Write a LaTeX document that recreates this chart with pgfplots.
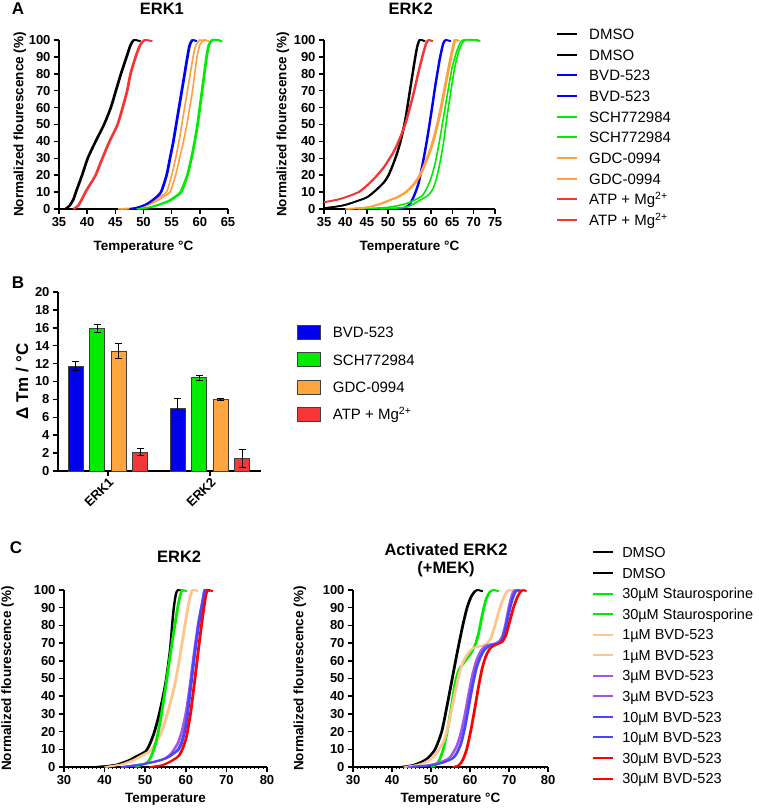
\documentclass[border=0pt]{standalone}
\usepackage{pgfplots}
\pgfplotsset{compat=1.18}
\usepackage{pgfplotstable}
\usepackage{fontspec}
\setmainfont{Liberation Sans}

\definecolor{cgreen}{RGB}{0,235,0}
\definecolor{corange}{RGB}{255,160,64}
\definecolor{cred}{RGB}{250,50,50}
\definecolor{cpeach}{RGB}{255,196,140}
\definecolor{cpurple}{RGB}{165,85,230}
\definecolor{cblue}{RGB}{0,0,255}
\definecolor{cblueC}{RGB}{70,70,255}
\definecolor{bblue}{RGB}{0,0,235}
\definecolor{bgreen}{RGB}{0,235,0}
\definecolor{borange}{RGB}{255,165,64}
\definecolor{bred}{RGB}{245,55,55}

\pgfplotsset{
  every axis title shift=0pt,
  prism/.style={
    scale only axis, anchor=south west, clip=false,
    axis x line*=bottom, axis y line*=left,
    axis line style={line width=1.8pt,-},
    tick align=outside, major tick length=5pt,
    every tick/.append style={black, line width=1.5pt},
    tick label style={font=\fontsize{13}{15}\selectfont\bfseries},
    /pgf/number format/assume math mode=true,
    label style={font=\fontsize{13.5}{15}\selectfont\bfseries},
    title style={font=\fontsize{16.5}{18}\selectfont\bfseries},
  },
  melt/.style={prism, ymin=0, ymax=100, ytick={0,10,...,100},
    ylabel={Normalized flourescence (\%)}},
  curve/.style={line width=1.6pt, smooth, tension=0.4, no markers},
  barleg/.style={legend image code/.code={\draw[##1] (0pt,-1.6pt) rectangle (23pt,12.4pt);}},
  errs/.style={error bars/.cd, y dir=both, y explicit,
    error bar style={black, line width=1pt},
    error mark options={black, rotate=90, mark size=3.5pt, line width=1pt}},
}

% ---------- panel A, ERK1 ----------
\pgfplotstableread{
a b y
36 36.2 0
36.8 37 2
37.5 37.7 6
37.9 38.1 10
39 39.2 20
40 40.2 30
41.4 41.6 40
42.9 43.1 50
44.1 44.3 60
45 45.2 70
45.9 46.1 80
46.9 47.1 90
47.6 47.8 97
48.2 48.4 100
49.3 49.5 99.3
}\aoneDMSO
\pgfplotstableread{
a b y
37.5 37.7 0
38.3 38.5 2
39 39.2 6
39.6 39.8 10
40.5 40.7 15
41.4 41.6 20
42.6 42.8 30
43.6 43.8 38
44.3 44.5 43
45.3 45.5 50
46.2 46.4 60
47 47.2 70
47.6 47.8 80
48.5 48.7 90
49.3 49.5 97
50.1 50.3 100
51.4 51.6 99.3
}\aoneATP
\pgfplotstableread{
a b y
47.5 47.7 0
49 49.2 1
50.5 50.7 3
51.8 52 6
53 53.2 10
54 54.2 20
54.6 54.8 30
55.2 55.4 40
55.7 55.9 50
56.2 56.4 60
56.7 56.9 70
57.2 57.4 80
57.7 57.9 90
58.1 58.3 97
58.6 58.8 100
59.3 59.5 99.3
}\aoneBVD
\pgfplotstableread{
a b y
45.5 46 0
48 48.5 0.5
50 50.5 2
52 52.5 5
53 53.6 7.5
54.1 54.7 10
55 55.7 20
55.7 56.4 30
56.3 57.1 40
56.8 57.7 50
57.3 58.2 60
57.8 58.7 70
58.3 59.1 80
58.8 59.5 90
59.3 60 97
60 60.7 100
60.8 61.6 99.3
}\aoneGDC
\pgfplotstableread{
a b y
48.8 49.2 0
51 51.3 1
53 53.3 3
54.5 54.8 5
55.6 55.9 7.5
56.5 56.8 10
57.7 57.9 20
58.4 58.6 30
59 59.2 40
59.5 59.7 50
59.9 60.1 60
60.3 60.5 70
60.7 60.9 80
61.1 61.3 90
61.5 61.7 97
62.1 62.3 100
63.2 63.4 100
63.8 64 99
}\aoneSCH

% ---------- panel A, ERK2 ----------
\pgfplotstableread{
a b y
35 35 0.5
38 38.2 1.5
40 40.2 2.5
43 43.2 5
45 45.2 7
47 47.2 11
49 49.2 16
50 50.2 20
51 51.2 26
52 52.2 33
53 53.2 42
54 54.2 54
55 55.2 70
56 56.2 86
56.7 56.9 96
57.3 57.5 100
58.5 58.7 99.3
}\atwoDMSO
\pgfplotstableread{
a b y
35 35 4
38 38.2 5.5
40 40.2 7
43 43.2 10
45 45.2 14
47 47.2 19
49 49.2 25
50 50.2 29
51 51.2 33
52 52.2 38
53 53.2 44
54 54.2 51
55 55.2 60
56 56.2 70
57 57.2 81
58 58.2 91
58.8 59 98
59.4 59.6 100
60.3 60.5 99.3
}\atwoATP
\pgfplotstableread{
a b y
52.5 52.7 0
54 54.2 1
55 55.2 3
56 56.2 8
57 57.2 15
58 58.2 27
59 59.2 41
60 60.2 57
61 61.2 74
62 62.2 89
62.8 63 98
63.4 63.6 100
64.5 64.7 99.3
}\atwoBVD
\pgfplotstableread{
a b y
40 40.5 0
45 45.3 1
48 48.3 3
50 50.3 5
52 52.3 7
54 54.3 10
56 56.3 15
57.5 57.8 21
59 59.3 30
60 60.3 37
61 61.3 46
62 62.3 57
63 63.3 70
64 64.3 83
64.8 65.1 93
65.5 65.8 100
66.4 66.7 99.3
}\atwoGDC
\pgfplotstableread{
a b y
43 48 0
50 54 1
54 56 3
56 57.3 5
58 59.3 8
59 60.5 12
60 61.3 18
61 62.1 27
62 63 40
63 63.8 55
64 64.7 70
65 65.6 84
66 66.5 93
66.8 67.3 98
67.6 68.1 100
70.5 71 100
71 71.5 99
}\atwoSCH

% ---------- panel C, ERK2 ----------
\pgfplotstableread{
a b y
37 37.5 0
40 40.5 0.5
43 43.5 1.5
46 46.5 4
48 48.5 6.5
50 50.3 9
51 51.3 13
52 52.3 19
53 53.3 27
54 54.3 37
55 55.3 49
56 56.2 66
56.6 56.8 82
57 57.2 91
57.5 57.7 98
58 58.2 100
59.2 59.4 99.3
}\coneDMSO
\pgfplotstableread{
a b y
47.5 47.8 0
50 50.3 2
51 51.3 4.5
52 52.3 10
53 53.3 19
54 54.3 32
55 55.3 47
56 56.3 63
57 57.3 78
58 58.3 92
58.6 58.9 98
59 59.3 100
60 60.3 99.3
}\coneSTA
\pgfplotstableread{
a b y
40 40.5 0
44 44.5 1.5
47 47.5 4
49 49.5 6.5
51 51.4 9
52 52.4 12
53 53.4 16
54 54.4 21
55 55.4 28
56 56.3 36
57 57.3 45
58 58.3 57
59 59.3 71
60 60.3 85
60.8 61.1 95
61.5 61.8 100
62.8 63.1 99.3
}\coneONE
\pgfplotstableread{
a b y
44 44.5 0
50 50.5 2
54 54.3 4
56 56.3 7
57 57.3 10
58 58.3 14
59 59.3 21
60 60.3 32
61 61.3 48
62 62.3 66
63 63.3 82
64 64.3 94
64.5 64.8 100
65.5 65.8 99.3
}\coneTHREE
\pgfplotstableread{
a b y
44 44.5 0
48 48.5 1
52 52.5 3
55 55.4 5
57 57.4 8
58 58.4 10
59 59.3 15
60 60.3 25
61 61.3 44
62 62.3 63
63 63.3 80
64 64.3 93
64.6 64.9 100
65.8 66 99.3
}\coneTEN
\pgfplotstableread{
a b y
51 51.3 0
54 54.3 1
56 56.3 3
58 58.3 6
59 59.3 10
60 60.3 17
61 61.3 30
62 62.3 48
63 63.3 67
64 64.3 85
64.8 65 96
65.3 65.5 100
66.5 66.7 99.3
}\coneTHIRTY

% ---------- panel C, activated ERK2 ----------
\pgfplotstableread{
a b y
42 42.3 0
45 45.3 1
47 47.3 2.5
49 49.3 5
50.9 51.2 10
52.6 52.9 20
54 54.3 35
55.3 55.6 50
56.6 56.9 65
58 58.3 80
59.1 59.4 90
60.1 60.4 96
61 61.3 99
61.8 62.1 100
63.1 63.3 99.3
}\ctwoDMSO
\pgfplotstableread{
a b y
50 50.3 0
51 51.3 1
52 52.3 4
53 53.3 10
54 54.3 20
55 55.3 33
56 56.3 47
57 57.3 55
58 58.3 58
59 59.3 61
60 60.3 64
61 61.3 68
62 62.3 75
63 63.3 86
64 64.3 95
65 65.3 99
65.9 66.2 100
67.2 67.4 99.3
}\ctwoSTA
\pgfplotstableread{
a b y
43 43.3 0
46 46.3 1
49 49.3 3
51 51.3 7
53 53.3 14
54 54.3 21
55 55.3 31
56 56.3 42
57 57.3 52
58 58.3 59
59 59.3 63
60 60.3 66
61 61.3 67.5
62 62.3 68
63 63.3 68.5
64 64.3 69.5
65 65.3 72
66 66.3 78
67 67.3 86
68 68.3 93
69 69.3 98
69.8 70.1 100
71 71.2 99.3
}\ctwoONE
\pgfplotstableread{
a b y
44 44.3 0
49 49.3 1
52 52.3 2.5
54.5 54.8 5
55.5 55.8 8
56.5 56.8 12
57.5 57.8 19
58.5 58.8 29
59.5 59.8 41
60.5 60.8 52
61.5 61.8 60
62.5 62.8 65
63.5 63.8 68
64.5 64.8 69
65.5 65.8 69.5
66.5 66.8 70
67.3 67.6 71
68.2 68.5 74
69 69.3 81
69.8 70.1 90
70.6 70.9 97
71.3 71.6 100
72.4 72.6 99.3
}\ctwoTHREE
\pgfplotstableread{
a b y
45 45.3 0
50 50.3 1
53 53.3 2.5
55.5 55.8 5
56.5 56.8 8
57.5 57.8 13
58.5 58.8 22
59.5 59.8 34
60.5 60.8 46
61.5 61.8 56
62.5 62.8 62
63.5 63.8 66
64.5 64.8 68
65.5 65.8 69
66.5 66.8 69.5
67.3 67.6 70
68 68.3 71.5
68.8 69.1 77
69.7 70 86
70.6 70.9 94
71.5 71.8 99
72.3 72.6 100
73.3 73.5 99.3
}\ctwoTEN
\pgfplotstableread{
a b y
55.5 55.8 0
57 57.3 1
58 58.3 4
59 59.3 10
60 60.3 20
61 61.3 32
62 62.3 45
63 63.3 56
64 64.3 63
65 65.3 67
66 66.3 68.5
67 67.3 69.5
68 68.3 70.5
69 69.3 74
70 70.3 82
71 71.3 90
72 72.3 96
72.8 73.1 99
73.5 73.8 100
74.3 74.5 99.3
}\ctwoTHIRTY

\begin{document}
\begin{tikzpicture}
\path[use as bounding box] (0,0) rectangle (759pt,809pt);
\node[font=\fontsize{17}{19}\selectfont\bfseries] at (18pt,800pt) {A};
\node[font=\fontsize{17}{19}\selectfont\bfseries] at (18pt,526pt) {B};
\node[font=\fontsize{17}{19}\selectfont\bfseries] at (16pt,261pt) {C};

% A: ERK1
\begin{axis}[melt, at={(59pt,600pt)}, width=169pt, height=169pt,
  xmin=35, xmax=65, xtick={35,40,...,65},
  xlabel={Temperature °C},
  xlabel style={at={(axis description cs:0.5,-0.243)}, anchor=base},
  ylabel style={at={(axis description cs:-0.231,0.5)}, anchor=center},
  title={ERK1}, title style={at={(axis description cs:0.609,1.148)}, anchor=base}]
\addplot[curve, black] table[x=a,y=y]{\aoneDMSO};
\addplot[curve, black] table[x=b,y=y]{\aoneDMSO};
\addplot[curve, cred] table[x=a,y=y]{\aoneATP};
\addplot[curve, cred] table[x=b,y=y]{\aoneATP};
\addplot[curve, corange] table[x=a,y=y]{\aoneGDC};
\addplot[curve, corange] table[x=b,y=y]{\aoneGDC};
\addplot[curve, cblue] table[x=a,y=y]{\aoneBVD};
\addplot[curve, cblue] table[x=b,y=y]{\aoneBVD};
\addplot[curve, cgreen] table[x=a,y=y]{\aoneSCH};
\addplot[curve, cgreen] table[x=b,y=y]{\aoneSCH};
\end{axis}

% A: ERK2
\begin{axis}[melt, at={(324pt,600pt)}, width=171pt, height=169pt,
  xmin=35, xmax=75, xtick={35,40,...,75},
  xlabel={Temperature °C},
  xlabel style={at={(axis description cs:0.5,-0.243)}, anchor=base},
  ylabel style={at={(axis description cs:-0.240,0.5)}, anchor=center},
  title={ERK2}, title style={at={(axis description cs:0.507,1.148)}, anchor=base},
  legend style={at={(1.357,1.069)}, anchor=north west, draw=none, fill=none,
    inner sep=0pt, row sep=6.67pt, column sep=11pt,
    font=\fontsize{15}{17}\selectfont,
    nodes={inner sep=0pt, text height=11pt, text depth=3pt},
    cells={anchor=base west}},
  legend image code/.code={\draw[#1, line width=2pt] (0pt,5.4pt) -- (20pt,5.4pt);}]
\addplot[curve, black] table[x=a,y=y]{\atwoDMSO};
\addplot[curve, black] table[x=b,y=y]{\atwoDMSO};
\addplot[curve, cblue] table[x=a,y=y]{\atwoBVD};
\addplot[curve, cblue] table[x=b,y=y]{\atwoBVD};
\addplot[curve, cgreen] table[x=a,y=y]{\atwoSCH};
\addplot[curve, cgreen] table[x=b,y=y]{\atwoSCH};
\addplot[curve, corange] table[x=a,y=y]{\atwoGDC};
\addplot[curve, corange] table[x=b,y=y]{\atwoGDC};
\addplot[curve, cred] table[x=a,y=y]{\atwoATP};
\addplot[curve, cred] table[x=b,y=y]{\atwoATP};
\legend{DMSO,DMSO,BVD-523,BVD-523,SCH772984,SCH772984,GDC-0994,GDC-0994,
  ATP + Mg\textsuperscript{2+},ATP + Mg\textsuperscript{2+}}
\end{axis}

% B: delta Tm bars
\begin{axis}[prism, at={(58pt,338pt)}, width=203pt, height=179pt,
  ybar=6.5pt, bar width=15pt,
  xmin=-0.49, xmax=1.5, xtick={0,1}, xticklabels={ERK1,ERK2},
  xticklabel style={rotate=45, anchor=north east, inner sep=0.5pt,
    font=\fontsize{13}{15}\selectfont\bfseries},
  ymin=0, ymax=20, ytick={0,2,...,20},
  ylabel={Δ Tm / °C},
  ylabel style={at={(axis description cs:-0.177,0.5)}, anchor=center,
    font=\fontsize{17}{19}\selectfont\bfseries},
  legend style={at={(1.177,0.817)}, anchor=north west, draw=none, fill=none,
    inner sep=0pt, row sep=12.5pt, column sep=12pt,
    font=\fontsize{15}{17}\selectfont,
    nodes={inner sep=0pt, text height=12.5pt, text depth=1.7pt},
    cells={anchor=base west}}]
\addplot[barleg, fill=bblue, draw=black!75, line width=0.8pt, errs]
  coordinates {(0,11.7) +- (0,0.5) (1,7.0) +- (0,1.05)};
\addplot[barleg, fill=bgreen, draw=black!75, line width=0.8pt, errs]
  coordinates {(0,15.95) +- (0,0.42) (1,10.42) +- (0,0.3)};
\addplot[barleg, fill=borange, draw=black!75, line width=0.8pt, errs]
  coordinates {(0,13.4) +- (0,0.85) (1,7.98) +- (0,0.15)};
\addplot[barleg, fill=bred, draw=black!75, line width=0.8pt, errs]
  coordinates {(0,2.1) +- (0,0.4) (1,1.38) +- (0,1.0)};
\legend{BVD-523,SCH772984,GDC-0994,ATP + Mg\textsuperscript{2+}}
\end{axis}

% C: ERK2
\begin{axis}[melt, at={(64pt,42pt)}, width=203pt, height=177pt,
  xmin=30, xmax=80, xtick={30,40,...,80}, minor x tick num=9,
  minor tick length=2pt, every minor tick/.append style={line width=0.8pt},
  xlabel={Temperature},
  xlabel style={at={(axis description cs:0.5,-0.2)}, anchor=base},
  ylabel style={at={(axis description cs:-0.278,0.5)}, anchor=center},
  title={ERK2}, title style={at={(axis description cs:0.567,1.158)}, anchor=base}]
\addplot[curve, black] table[x=a,y=y]{\coneDMSO};
\addplot[curve, black] table[x=b,y=y]{\coneDMSO};
\addplot[curve, cpeach] table[x=a,y=y]{\coneONE};
\addplot[curve, cpeach] table[x=b,y=y]{\coneONE};
\addplot[curve, cgreen] table[x=a,y=y]{\coneSTA};
\addplot[curve, cgreen] table[x=b,y=y]{\coneSTA};
\addplot[curve, cpurple] table[x=a,y=y]{\coneTHREE};
\addplot[curve, cpurple] table[x=b,y=y]{\coneTHREE};
\addplot[curve, cblueC] table[x=a,y=y]{\coneTEN};
\addplot[curve, cblueC] table[x=b,y=y]{\coneTEN};
\addplot[curve, red] table[x=a,y=y]{\coneTHIRTY};
\addplot[curve, red] table[x=b,y=y]{\coneTHIRTY};
\end{axis}

% C: activated ERK2
\begin{axis}[melt, at={(353pt,42pt)}, width=195pt, height=177pt,
  xmin=30, xmax=80, xtick={30,40,...,80}, minor x tick num=9,
  minor tick length=2pt, every minor tick/.append style={line width=0.8pt},
  xlabel={Temperature °C},
  xlabel style={at={(axis description cs:0.5,-0.2)}, anchor=base},
  ylabel style={at={(axis description cs:-0.272,0.5)}, anchor=center},
  title={Activated ERK2\\(+MEK)},
  title style={at={(axis description cs:0.477,1.262)}, anchor=north, align=center, inner sep=0pt},
  legend style={at={(1.226,1.243)}, anchor=north west, draw=none, fill=none,
    inner sep=0pt, row sep=7.05pt, column sep=8pt,
    font=\fontsize{14.5}{16}\selectfont,
    nodes={inner sep=0pt, text height=10.5pt, text depth=3pt},
    cells={anchor=base west}},
  legend image code/.code={\draw[#1, line width=2pt] (0pt,5.2pt) -- (20pt,5.2pt);}]
\addplot[curve, black] table[x=a,y=y]{\ctwoDMSO};
\addplot[curve, black] table[x=b,y=y]{\ctwoDMSO};
\addplot[curve, cgreen] table[x=a,y=y]{\ctwoSTA};
\addplot[curve, cgreen] table[x=b,y=y]{\ctwoSTA};
\addplot[curve, cpeach] table[x=a,y=y]{\ctwoONE};
\addplot[curve, cpeach] table[x=b,y=y]{\ctwoONE};
\addplot[curve, cpurple] table[x=a,y=y]{\ctwoTHREE};
\addplot[curve, cpurple] table[x=b,y=y]{\ctwoTHREE};
\addplot[curve, cblueC] table[x=a,y=y]{\ctwoTEN};
\addplot[curve, cblueC] table[x=b,y=y]{\ctwoTEN};
\addplot[curve, red] table[x=a,y=y]{\ctwoTHIRTY};
\addplot[curve, red] table[x=b,y=y]{\ctwoTHIRTY};
\legend{DMSO,DMSO,30µM Staurosporine,30µM Staurosporine,1µM BVD-523,1µM BVD-523,
  3µM BVD-523,3µM BVD-523,10µM BVD-523,10µM BVD-523,30µM BVD-523,30µM BVD-523}
\end{axis}
\end{tikzpicture}
\end{document}
